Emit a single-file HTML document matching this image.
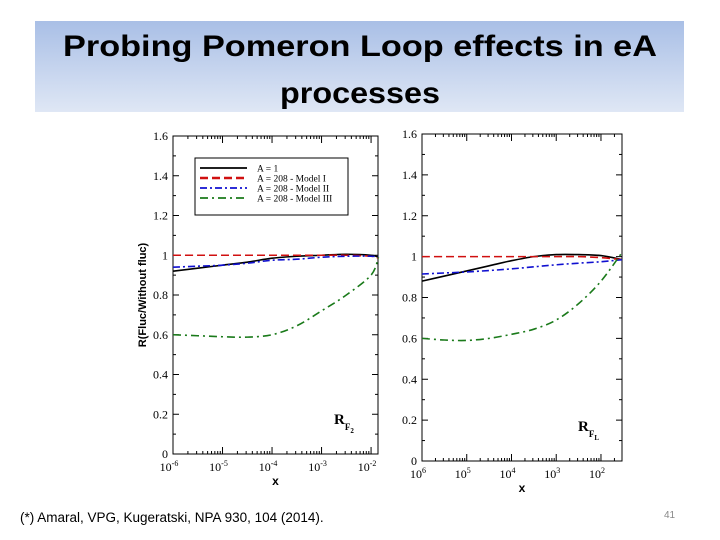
<!DOCTYPE html>
<html><head><meta charset="utf-8"><style>
html,body{margin:0;padding:0;background:#fff;width:720px;height:540px;overflow:hidden}
svg{display:block;font-family:"Liberation Serif",serif}
</style></head><body>
<svg id="s" width="720" height="540" viewBox="0 0 720 540" xmlns="http://www.w3.org/2000/svg">
<defs><linearGradient id="tg" x1="0" y1="0" x2="0" y2="1"><stop offset="0" stop-color="#a9bfe6"/><stop offset="1" stop-color="#dfe7f5"/></linearGradient></defs>
<rect x="35" y="21" width="649" height="91" fill="url(#tg)"/>
<text x="360" y="56" text-anchor="middle" font-family="Liberation Sans,sans-serif" font-weight="bold" font-size="30" textLength="594" lengthAdjust="spacingAndGlyphs">Probing Pomeron Loop effects in eA</text>
<text x="360" y="103" text-anchor="middle" font-family="Liberation Sans,sans-serif" font-weight="bold" font-size="30" textLength="160" lengthAdjust="spacingAndGlyphs">processes</text>
<text x="20" y="522" font-family="Liberation Sans,sans-serif" font-size="13.5">(*) Amaral, VPG, Kugeratski, NPA 930,  104 (2014).</text>
<text x="664" y="518" font-family="Liberation Sans,sans-serif" font-size="10" fill="#888">41</text>
<g id="plots"></g>
</svg>
<script>
// data: log10(x) positions and ratio values
const logX = [-6, -5.5, -5, -4.5, -4, -3.5, -3, -2.5, -2, -1.85];
const leftA1 =   [0.92, 0.935, 0.95, 0.965, 0.985, 0.995, 1.0, 1.005, 1.0, 0.99];
const leftM1 =   [1.0, 1.0, 1.0, 1.0, 1.0, 1.0, 1.0, 1.0, 0.995, 0.985];
const leftM2 =   [0.94, 0.945, 0.95, 0.96, 0.975, 0.98, 0.99, 0.995, 0.995, 0.99];
const leftM3 =   [0.60, 0.595, 0.59, 0.588, 0.60, 0.645, 0.72, 0.80, 0.90, 0.99];
const logXR = [-6, -5.5, -5, -4.5, -4, -3.5, -3, -2.5, -2, -1.53];
const rightA1 =  [0.88, 0.905, 0.93, 0.955, 0.98, 1.0, 1.01, 1.01, 1.005, 0.985];
const rightM1 =  [1.0, 1.0, 1.0, 1.0, 1.0, 1.0, 1.0, 1.0, 0.995, 0.985];
const rightM2 =  [0.915, 0.92, 0.925, 0.932, 0.94, 0.95, 0.96, 0.968, 0.975, 0.985];
const rightM3 =  [0.60, 0.592, 0.59, 0.60, 0.62, 0.645, 0.69, 0.77, 0.88, 1.02];
const yTicks = [0, 0.2, 0.4, 0.6, 0.8, 1, 1.2, 1.4, 1.6];
const yTickLabels = ["0","0.2","0.4","0.6","0.8","1","1.2","1.4","1.6"];
const decades = [-6, -5, -4, -3, -2];

const NS = "http://www.w3.org/2000/svg";
const root = document.getElementById('plots');
function mk(tag, attrs, parent){ const e=document.createElementNS(NS,tag); for(const k in attrs) e.setAttribute(k,attrs[k]); (parent||root).appendChild(e); return e; }

const styles = [
 {name:'a1', color:'#000', dash:'', w:1.6},
 {name:'model-1', color:'#d01010', dash:'8,4', w:1.6},
 {name:'model-2', color:'#1010d0', dash:'7,3,2,3', w:1.6},
 {name:'model-3', color:'#1a7a1a', dash:'8,4,2,4', w:1.6}
];

function panel(id, x0, x1, yTop, yBot, lmin, lmax, xs, series, label, rightSide){
  const g = mk('g', {});
  
  
  const X = l => x0 + (l - lmin) / (lmax - lmin) * (x1 - x0);
  const Y = v => yBot - v / 1.6 * (yBot - yTop);
  const fr = mk('rect', {x:x0, y:yTop, width:x1-x0, height:yBot-yTop, fill:'none', stroke:'#000', 'stroke-width':1}, g);
  
  
  yTicks.forEach((v,i)=>{
    const y = Y(v);
    mk('line',{x1:x0,y1:y,x2:x0+6,y2:y,stroke:'#000'},g);
    mk('line',{x1:x1,y1:y,x2:x1-6,y2:y,stroke:'#000'},g);
    if(i<yTicks.length-1){ const ym=Y(v+0.1);
      mk('line',{x1:x0,y1:ym,x2:x0+3,y2:ym,stroke:'#000'},g);
      mk('line',{x1:x1,y1:ym,x2:x1-3,y2:ym,stroke:'#000'},g);}
    const t = mk('text',{x:x0-5,y:y+4,'text-anchor':'end','font-size':12},g);
    t.textContent = yTickLabels[i];
    
    
  });
  decades.forEach(d=>{
    for(let m=1;m<10;m++){
      const l = d + Math.log10(m); if(l>lmax) break;
      const x = X(l), len = m===1?7:3;
      mk('line',{x1:x,y1:yBot,x2:x,y2:yBot-len,stroke:'#000'},g);
      mk('line',{x1:x,y1:yTop,x2:x,y2:yTop+len,stroke:'#000'},g);
    }
    const t = mk('text',{x:X(d)-4,y:yBot+17,'text-anchor':'middle','font-size':12},g);
    t.innerHTML = '10<tspan dy="-5" font-size="8">' + (rightSide? Math.abs(d) : d) + '</tspan>';
    
    
  });
  const xl = mk('text',{x:(x0+x1)/2,y:yBot+31,'text-anchor':'middle','font-size':12,'font-weight':'bold','font-family':'Liberation Sans,sans-serif'},g);
  xl.textContent = 'x';
  
  
  const lb = mk('text',{x:x1-44,y:yBot-30,'font-size':15,'font-weight':'bold'},g);
  lb.innerHTML = 'R<tspan dy="6" font-size="9">F</tspan><tspan dy="3" font-size="7">' + label + '</tspan>';
  
  
  series.forEach((vals,si)=>{
    const st = styles[si];
    const pts = xs.map((l,i)=>[X(l),Y(vals[i])]);
    let d = 'M'+pts[0][0]+','+pts[0][1];
    for(let i=0;i<pts.length-1;i++){
      const p0=pts[i-1]||pts[i], p1=pts[i], p2=pts[i+1], p3=pts[i+2]||p2;
      d += ' C'+(p1[0]+(p2[0]-p0[0])/6)+','+(p1[1]+(p2[1]-p0[1])/6)+' '+(p2[0]-(p3[0]-p1[0])/6)+','+(p2[1]-(p3[1]-p1[1])/6)+' '+p2[0]+','+p2[1];
    }
    const p = mk('path',{d:d,fill:'none',stroke:st.color,'stroke-width':st.w,'stroke-dasharray':st.dash},g);
    
    
  });
  return g;
}

panel('left-panel', 173, 378, 136, 454, -6, -1.86, logX, [leftA1, leftM1, leftM2, leftM3], '2', false);
panel('right-panel', 422, 622, 134, 461, -6, -1.53, logXR, [rightA1, rightM1, rightM2, rightM3], 'L', true);

const yt = mk('text',{transform:'translate(146,295) rotate(-90)','text-anchor':'middle','font-size':11,'font-weight':'bold','font-family':'Liberation Sans,sans-serif'});
yt.textContent = 'R(Fluc/Without fluc)';



const lg = mk('g',{});


mk('rect',{x:195,y:158,width:153,height:57,fill:'#fff',stroke:'#000'},lg);
const names = ['A = 1','A = 208 - Model I','A = 208 - Model II','A = 208 - Model III'];
names.forEach((n,i)=>{
  const y = 168 + i*10;
  const st = styles[i];
  const ln = mk('line',{x1:200,y1:y,x2:247,y2:y,stroke:st.color,'stroke-width':i==1?2.5:1.8,'stroke-dasharray':st.dash},lg);
  
  
  const t = mk('text',{x:257,y:y+3.5,'font-size':9.5},lg);
  t.textContent = n;
  
  
});
</script>
</body></html>
